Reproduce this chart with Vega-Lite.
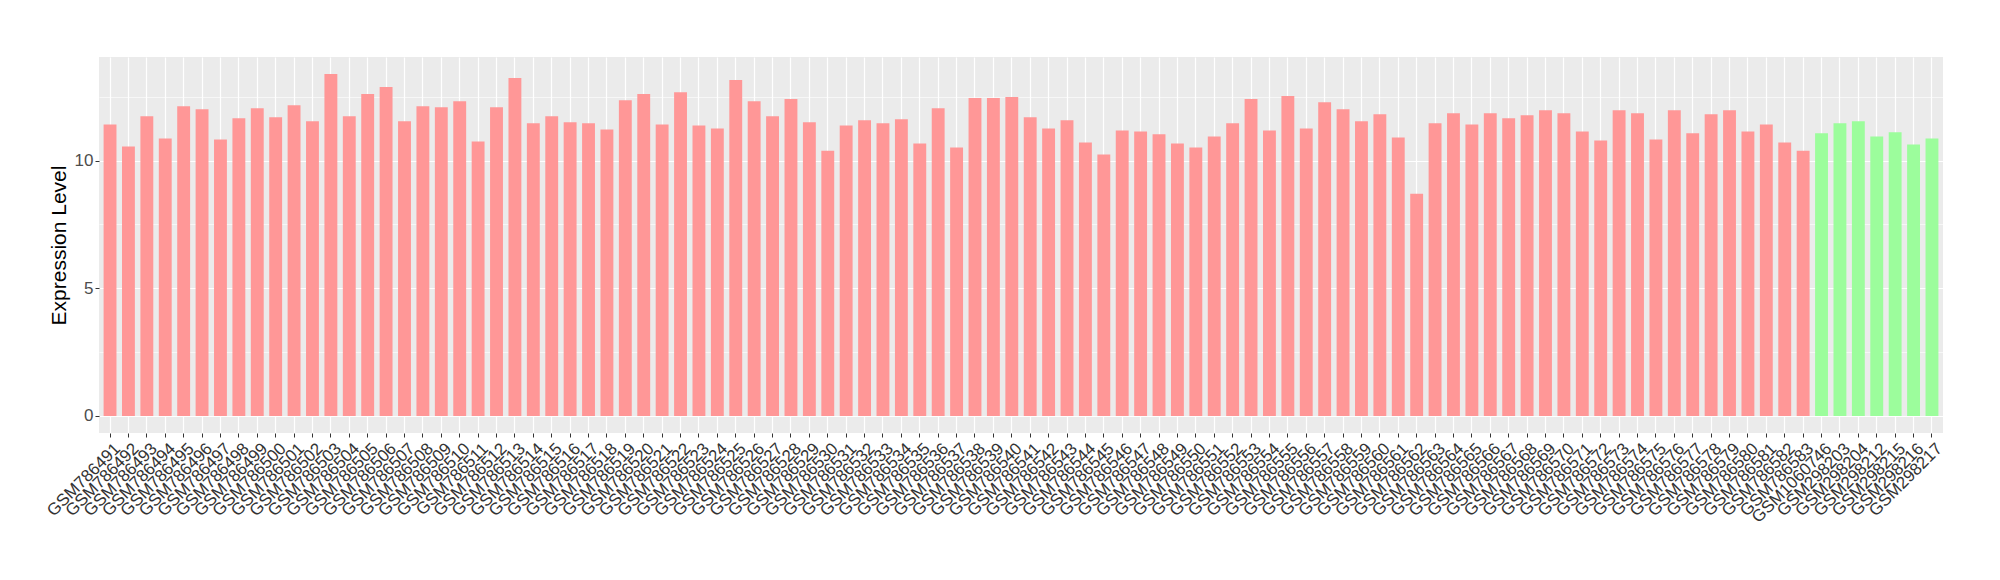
{
  "$schema": "https://vega.github.io/schema/vega-lite/v6.json",
  "width": 1844,
  "height": 376,
  "autosize": {"type": "none"},
  "padding": {"left": 99, "top": 57, "right": 57, "bottom": 147},
  "background": "white",
  "config": {
    "view": {"fill": "#EBEBEB", "stroke": null},
    "font": "Liberation Sans"
  },
  "data": {
    "values": [
      {"sample": "GSM786491", "value": 11.42, "group": "A"},
      {"sample": "GSM786492", "value": 10.55, "group": "A"},
      {"sample": "GSM786493", "value": 11.74, "group": "A"},
      {"sample": "GSM786494", "value": 10.87, "group": "A"},
      {"sample": "GSM786495", "value": 12.13, "group": "A"},
      {"sample": "GSM786496", "value": 12.01, "group": "A"},
      {"sample": "GSM786497", "value": 10.83, "group": "A"},
      {"sample": "GSM786498", "value": 11.66, "group": "A"},
      {"sample": "GSM786499", "value": 12.05, "group": "A"},
      {"sample": "GSM786500", "value": 11.70, "group": "A"},
      {"sample": "GSM786501", "value": 12.17, "group": "A"},
      {"sample": "GSM786502", "value": 11.54, "group": "A"},
      {"sample": "GSM786503", "value": 13.39, "group": "A"},
      {"sample": "GSM786504", "value": 11.74, "group": "A"},
      {"sample": "GSM786505", "value": 12.61, "group": "A"},
      {"sample": "GSM786506", "value": 12.88, "group": "A"},
      {"sample": "GSM786507", "value": 11.54, "group": "A"},
      {"sample": "GSM786508", "value": 12.13, "group": "A"},
      {"sample": "GSM786509", "value": 12.09, "group": "A"},
      {"sample": "GSM786510", "value": 12.33, "group": "A"},
      {"sample": "GSM786511", "value": 10.75, "group": "A"},
      {"sample": "GSM786512", "value": 12.09, "group": "A"},
      {"sample": "GSM786513", "value": 13.24, "group": "A"},
      {"sample": "GSM786514", "value": 11.46, "group": "A"},
      {"sample": "GSM786515", "value": 11.74, "group": "A"},
      {"sample": "GSM786516", "value": 11.50, "group": "A"},
      {"sample": "GSM786517", "value": 11.46, "group": "A"},
      {"sample": "GSM786518", "value": 11.22, "group": "A"},
      {"sample": "GSM786519", "value": 12.37, "group": "A"},
      {"sample": "GSM786520", "value": 12.61, "group": "A"},
      {"sample": "GSM786521", "value": 11.42, "group": "A"},
      {"sample": "GSM786522", "value": 12.68, "group": "A"},
      {"sample": "GSM786523", "value": 11.38, "group": "A"},
      {"sample": "GSM786524", "value": 11.26, "group": "A"},
      {"sample": "GSM786525", "value": 13.16, "group": "A"},
      {"sample": "GSM786526", "value": 12.33, "group": "A"},
      {"sample": "GSM786527", "value": 11.74, "group": "A"},
      {"sample": "GSM786528", "value": 12.41, "group": "A"},
      {"sample": "GSM786529", "value": 11.50, "group": "A"},
      {"sample": "GSM786530", "value": 10.39, "group": "A"},
      {"sample": "GSM786531", "value": 11.38, "group": "A"},
      {"sample": "GSM786532", "value": 11.58, "group": "A"},
      {"sample": "GSM786533", "value": 11.46, "group": "A"},
      {"sample": "GSM786534", "value": 11.62, "group": "A"},
      {"sample": "GSM786535", "value": 10.67, "group": "A"},
      {"sample": "GSM786536", "value": 12.05, "group": "A"},
      {"sample": "GSM786537", "value": 10.51, "group": "A"},
      {"sample": "GSM786538", "value": 12.45, "group": "A"},
      {"sample": "GSM786539", "value": 12.45, "group": "A"},
      {"sample": "GSM786540", "value": 12.49, "group": "A"},
      {"sample": "GSM786541", "value": 11.70, "group": "A"},
      {"sample": "GSM786542", "value": 11.26, "group": "A"},
      {"sample": "GSM786543", "value": 11.58, "group": "A"},
      {"sample": "GSM786544", "value": 10.71, "group": "A"},
      {"sample": "GSM786545", "value": 10.24, "group": "A"},
      {"sample": "GSM786546", "value": 11.18, "group": "A"},
      {"sample": "GSM786547", "value": 11.14, "group": "A"},
      {"sample": "GSM786548", "value": 11.03, "group": "A"},
      {"sample": "GSM786549", "value": 10.67, "group": "A"},
      {"sample": "GSM786550", "value": 10.51, "group": "A"},
      {"sample": "GSM786551", "value": 10.95, "group": "A"},
      {"sample": "GSM786552", "value": 11.46, "group": "A"},
      {"sample": "GSM786553", "value": 12.41, "group": "A"},
      {"sample": "GSM786554", "value": 11.18, "group": "A"},
      {"sample": "GSM786555", "value": 12.53, "group": "A"},
      {"sample": "GSM786556", "value": 11.26, "group": "A"},
      {"sample": "GSM786557", "value": 12.29, "group": "A"},
      {"sample": "GSM786558", "value": 12.01, "group": "A"},
      {"sample": "GSM786559", "value": 11.54, "group": "A"},
      {"sample": "GSM786560", "value": 11.82, "group": "A"},
      {"sample": "GSM786561", "value": 10.91, "group": "A"},
      {"sample": "GSM786562", "value": 8.70, "group": "A"},
      {"sample": "GSM786563", "value": 11.46, "group": "A"},
      {"sample": "GSM786564", "value": 11.86, "group": "A"},
      {"sample": "GSM786565", "value": 11.42, "group": "A"},
      {"sample": "GSM786566", "value": 11.86, "group": "A"},
      {"sample": "GSM786567", "value": 11.66, "group": "A"},
      {"sample": "GSM786568", "value": 11.78, "group": "A"},
      {"sample": "GSM786569", "value": 11.97, "group": "A"},
      {"sample": "GSM786570", "value": 11.86, "group": "A"},
      {"sample": "GSM786571", "value": 11.14, "group": "A"},
      {"sample": "GSM786572", "value": 10.79, "group": "A"},
      {"sample": "GSM786573", "value": 11.97, "group": "A"},
      {"sample": "GSM786574", "value": 11.86, "group": "A"},
      {"sample": "GSM786575", "value": 10.83, "group": "A"},
      {"sample": "GSM786576", "value": 11.97, "group": "A"},
      {"sample": "GSM786577", "value": 11.07, "group": "A"},
      {"sample": "GSM786578", "value": 11.82, "group": "A"},
      {"sample": "GSM786579", "value": 11.97, "group": "A"},
      {"sample": "GSM786580", "value": 11.14, "group": "A"},
      {"sample": "GSM786581", "value": 11.42, "group": "A"},
      {"sample": "GSM786582", "value": 10.71, "group": "A"},
      {"sample": "GSM786583", "value": 10.39, "group": "A"},
      {"sample": "GSM1060746", "value": 11.07, "group": "B"},
      {"sample": "GSM298203", "value": 11.46, "group": "B"},
      {"sample": "GSM298204", "value": 11.54, "group": "B"},
      {"sample": "GSM298212", "value": 10.95, "group": "B"},
      {"sample": "GSM298215", "value": 11.11, "group": "B"},
      {"sample": "GSM298216", "value": 10.63, "group": "B"},
      {"sample": "GSM298217", "value": 10.87, "group": "B"}
    ]
  },
  "mark": {"type": "bar"},
  "encoding": {
    "x": {
      "field": "sample",
      "type": "nominal",
      "sort": null,
      "scale": {"paddingInner": 0.3, "paddingOuter": 0.25},
      "axis": {
        "title": null,
        "bandPosition": 0.5,
        "domain": false,
        "grid": true,
        "gridColor": "#FFFFFF",
        "gridWidth": 1.2,
        "ticks": true,
        "tickSize": 4,
        "tickColor": "#333333",
        "tickWidth": 1,
        "labelAngle": -45,
        "labelAlign": "right",
        "labelBaseline": "top",
        "labelFontSize": 17,
        "labelColor": "#333333",
        "labelFont": "Liberation Sans",
        "labelPadding": 3,
        "labelOffset": 2,
        "labelOverlap": false,
        "labelBound": false
      }
    },
    "y": {
      "field": "value",
      "type": "quantitative",
      "scale": {"domain": [-0.67, 14.06], "zero": false, "nice": false},
      "axis": {
        "title": "Expression Level",
        "titleFont": "Liberation Sans",
        "titleFontSize": 21,
        "titleFontWeight": "normal",
        "titleColor": "#000000",
        "titlePadding": 5,
        "values": [0, 2.5, 5, 7.5, 10, 12.5],
        "domain": false,
        "grid": true,
        "gridColor": "#FFFFFF",
        "gridWidth": {"condition": {"test": "datum.value % 5 !== 0", "value": 0.6}, "value": 1.2},
        "tickSize": 4,
        "tickColor": "#333333",
        "tickOpacity": {"condition": {"test": "datum.value % 5 !== 0", "value": 0}, "value": 1},
        "labelExpr": "datum.value % 5 === 0 ? datum.label : ''",
        "labelFontSize": 17,
        "labelColor": "#4D4D4D",
        "labelFont": "Liberation Sans",
        "labelPadding": 2
      }
    },
    "y2": {"datum": 0},
    "color": {
      "field": "group",
      "type": "nominal",
      "scale": {"domain": ["A", "B"], "range": ["#FF9797", "#9CFD9C"]},
      "legend": null
    }
  }
}
